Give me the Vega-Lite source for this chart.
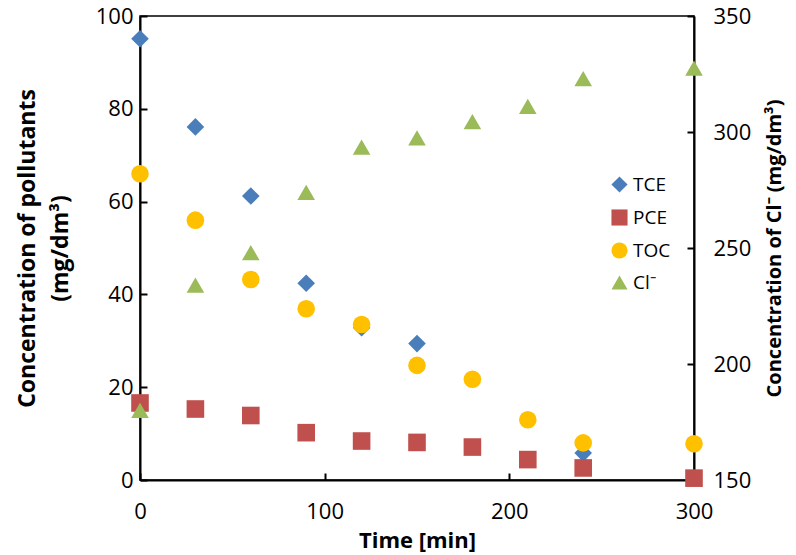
{
  "$schema": "https://vega.github.io/schema/vega-lite/v6.json",
  "width": 554,
  "height": 464,
  "autosize": {"type": "none"},
  "padding": {"left": 140, "top": 16, "right": 102, "bottom": 75},
  "background": "white",
  "config": {
    "font": "Open Sans",
    "view": {"stroke": "black", "strokeWidth": 1.5},
    "axis": {
      "grid": false,
      "domainColor": "black",
      "domainWidth": 2,
      "tickColor": "black",
      "tickWidth": 2,
      "tickSize": -7,
      "labelFlush": false,
      "labelFont": "Open Sans",
      "labelFontSize": 22,
      "labelColor": "black",
      "titleFont": "Open Sans",
      "titleFontSize": 22,
      "titleFontWeight": "bold",
      "titleColor": "black"
    }
  },
  "data": {
    "values": [
      {"t": 0, "series": "TCE", "v": 95.1},
      {"t": 30, "series": "TCE", "v": 76.1},
      {"t": 60, "series": "TCE", "v": 61.2},
      {"t": 90, "series": "TCE", "v": 42.4},
      {"t": 120, "series": "TCE", "v": 32.8},
      {"t": 150, "series": "TCE", "v": 29.4},
      {"t": 240, "series": "TCE", "v": 5.8},
      {"t": 0, "series": "PCE", "v": 16.6},
      {"t": 30, "series": "PCE", "v": 15.3},
      {"t": 60, "series": "PCE", "v": 13.9},
      {"t": 90, "series": "PCE", "v": 10.2},
      {"t": 120, "series": "PCE", "v": 8.4},
      {"t": 150, "series": "PCE", "v": 8.1},
      {"t": 180, "series": "PCE", "v": 7.1},
      {"t": 210, "series": "PCE", "v": 4.4},
      {"t": 240, "series": "PCE", "v": 2.6},
      {"t": 300, "series": "PCE", "v": 0.4},
      {"t": 0, "series": "TOC", "v": 66.0},
      {"t": 30, "series": "TOC", "v": 56.0},
      {"t": 60, "series": "TOC", "v": 43.2},
      {"t": 90, "series": "TOC", "v": 36.9},
      {"t": 120, "series": "TOC", "v": 33.5},
      {"t": 150, "series": "TOC", "v": 24.7},
      {"t": 180, "series": "TOC", "v": 21.7},
      {"t": 210, "series": "TOC", "v": 13.0},
      {"t": 240, "series": "TOC", "v": 8.0},
      {"t": 300, "series": "TOC", "v": 7.8},
      {"t": 0, "series": "Cl⁻", "v": 180},
      {"t": 30, "series": "Cl⁻", "v": 234},
      {"t": 60, "series": "Cl⁻", "v": 248},
      {"t": 90, "series": "Cl⁻", "v": 274},
      {"t": 120, "series": "Cl⁻", "v": 293.5},
      {"t": 150, "series": "Cl⁻", "v": 297.5},
      {"t": 180, "series": "Cl⁻", "v": 304.5},
      {"t": 210, "series": "Cl⁻", "v": 311},
      {"t": 240, "series": "Cl⁻", "v": 323},
      {"t": 300, "series": "Cl⁻", "v": 327.5}
    ]
  },
  "encoding": {
    "x": {
      "field": "t",
      "type": "quantitative",
      "scale": {"domain": [0, 300], "nice": false},
      "axis": {"values": [0, 100, 200, 300], "title": "Time [min]", "labelPadding": 28, "titlePadding": 8}
    },
    "color": {
      "field": "series",
      "type": "nominal",
      "scale": {"domain": ["TCE", "PCE", "TOC", "Cl⁻"], "range": ["#4A7EBB", "#C0504D", "#FFC000", "#9BBB59"]},
      "legend": {
        "orient": "none",
        "legendX": 470,
        "legendY": 159,
        "title": null,
        "labelFontSize": 19,
        "labelFont": "Open Sans",
        "labelColor": "black",
        "symbolSize": 260,
        "symbolOpacity": 1,
        "rowPadding": 10,
        "labelOffset": 4
      }
    },
    "shape": {
      "field": "series",
      "type": "nominal",
      "scale": {"domain": ["TCE", "PCE", "TOC", "Cl⁻"], "range": ["diamond", "square", "circle", "triangle-up"]}
    }
  },
  "layer": [
    {
      "transform": [{"filter": "datum.series !== 'Cl⁻'"}],
      "mark": {"type": "point", "filled": true, "opacity": 1, "size": 310},
      "encoding": {
        "y": {
          "field": "v",
          "type": "quantitative",
          "scale": {"domain": [0, 100], "nice": false},
          "axis": {"values": [0, 20, 40, 60, 80, 100], "title": ["Concentration of pollutants", "(mg/dm³)"], "titleFontSize": 23, "titleLineHeight": 33, "labelPadding": 14, "titlePadding": 23}
        }
      }
    },
    {
      "transform": [{"filter": "datum.series === 'Cl⁻'"}],
      "mark": {"type": "point", "filled": true, "opacity": 1, "size": 310},
      "encoding": {
        "y": {
          "field": "v",
          "type": "quantitative",
          "scale": {"domain": [150, 350], "nice": false},
          "axis": {"orient": "right", "values": [150, 200, 250, 300, 350], "title": "Concentration of Cl⁻  (mg/dm³)", "titleFontSize": 20, "titleAngle": -90, "titleBaseline": "top", "labelPadding": 26, "titlePadding": 14}
        }
      }
    }
  ],
  "resolve": {"scale": {"y": "independent"}}
}
